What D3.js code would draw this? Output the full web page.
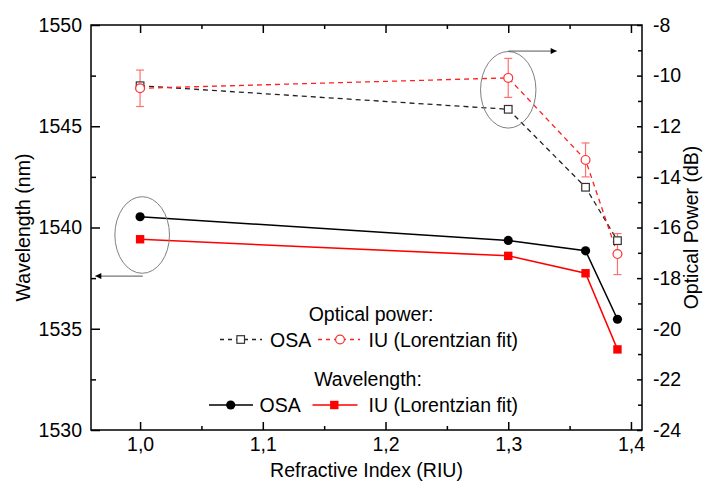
<!DOCTYPE html>
<html>
<head>
<meta charset="utf-8">
<script src="https://cdn.jsdelivr.net/npm/d3@7"></script>
<style>
  html, body { margin: 0; padding: 0; background: #fff; }
  svg { display: block; font-family: "Liberation Sans", Arial, sans-serif; }
</style>
</head>
<body>
<svg id="chart" width="705" height="490"></svg>
<script>
// ---- data ----
const refractiveIndex = [1.0, 1.3, 1.363, 1.389];
const wavelengthOSA = [1540.53, 1539.36, 1538.85, 1535.47];
const wavelengthIU = [1539.42, 1538.6, 1537.74, 1533.98];
const powerOSA = [-10.4, -11.33, -14.41, -16.52];
const powerIU = [-10.5, -10.09, -13.33, -17.05];
const powerIUerr = [0.72, 0.77, 0.67, 0.81];
const xTicks = [1.0, 1.1, 1.2, 1.3, 1.4];
const leftTicks = [1530, 1535, 1540, 1545, 1550];
const rightTicks = [-24, -22, -20, -18, -16, -14, -12, -10, -8];

// annotations (data space)
const ellipseLeft = { x: 1.0017, y: 1539.63, rx: 27.3, ry: 38.3 };
const ellipseRight = { x: 1.3, y: -10.56, rx: 27.7, ry: 38.3 };
const arrowLeft = { x1: 1.0022, x2: 0.9635, y: 1537.6 };
const arrowRight = { x1: 1.3, x2: 1.3395, y: -9.03 };

const svg = d3.select("#chart");
const L = 91, R = 642, T = 25, B = 430;
const FS = 19.5;

const x = d3.scaleLinear().domain([0.96, 1.409]).range([L, R]);
const yL = d3.scaleLinear().domain([1530, 1550]).range([B, T]);
const yR = d3.scaleLinear().domain([-24, -8]).range([B, T]);

const fmtX = d => d3.format(".1f")(d).replace(".", ",");

// defs arrow
const defs = svg.append("defs");
defs.append("marker").attr("id", "arr").attr("viewBox", "0 0 10 10")
  .attr("refX", 10).attr("refY", 5).attr("markerWidth", 10).attr("markerHeight", 6)
  .attr("markerUnits", "userSpaceOnUse").attr("orient", "auto")
  .append("path").attr("d", "M0,0 L10,5 L0,10 Z").attr("fill", "#000");

// ---- axes ----
const gAx = svg.append("g");
// bottom
gAx.append("g").attr("transform", `translate(0,${B})`)
  .call(d3.axisBottom(x).tickValues(xTicks).tickSizeInner(-8).tickSizeOuter(0).tickFormat(fmtX).tickPadding(7))
  .call(g => g.select(".domain").remove());
gAx.append("g").attr("transform", `translate(0,${B})`)
  .call(d3.axisBottom(x).tickValues([1.05, 1.15, 1.25, 1.35]).tickSizeInner(-4).tickSizeOuter(0).tickFormat(""))
  .call(g => g.select(".domain").remove());
// top
gAx.append("g").attr("transform", `translate(0,${T})`)
  .call(d3.axisTop(x).tickValues(xTicks).tickSizeInner(-8).tickSizeOuter(0).tickFormat(""))
  .call(g => g.select(".domain").remove());
gAx.append("g").attr("transform", `translate(0,${T})`)
  .call(d3.axisTop(x).tickValues([1.05, 1.15, 1.25, 1.35]).tickSizeInner(-4).tickSizeOuter(0).tickFormat(""))
  .call(g => g.select(".domain").remove());
// left
gAx.append("g").attr("transform", `translate(${L},0)`)
  .call(d3.axisLeft(yL).tickValues(leftTicks).tickSizeInner(-9).tickSizeOuter(0).tickFormat(d3.format("d")).tickPadding(9))
  .call(g => g.select(".domain").remove());
gAx.append("g").attr("transform", `translate(${L},0)`)
  .call(d3.axisLeft(yL).tickValues([1532.5, 1537.5, 1542.5, 1547.5]).tickSizeInner(-5).tickSizeOuter(0).tickFormat(""))
  .call(g => g.select(".domain").remove());
// right
gAx.append("g").attr("transform", `translate(${R},0)`)
  .call(d3.axisRight(yR).tickValues(rightTicks).tickSizeInner(-5).tickSizeOuter(0).tickFormat(d => String(d)).tickPadding(11))
  .call(g => g.select(".domain").remove());
gAx.append("g").attr("transform", `translate(${R},0)`)
  .call(d3.axisRight(yR).tickValues([-23, -21, -19, -17, -15, -13, -11, -9]).tickSizeInner(-4).tickSizeOuter(0).tickFormat(""))
  .call(g => g.select(".domain").remove());

gAx.selectAll(".tick line").attr("stroke", "#000").attr("stroke-width", 1.5);
gAx.selectAll(".tick text").attr("font-size", FS).attr("font-family", "Liberation Sans, Arial, sans-serif").attr("fill", "#000");

// frame
svg.append("rect").attr("x", L).attr("y", T).attr("width", R - L).attr("height", B - T)
  .attr("fill", "none").attr("stroke", "#000").attr("stroke-width", 1.5);

// axis titles
svg.append("text").attr("x", (L + R) / 2).attr("y", 477).attr("text-anchor", "middle")
  .attr("font-size", FS).text("Refractive Index (RIU)");
svg.append("text").attr("transform", `translate(30,${(T + B) / 2}) rotate(-90)`).attr("text-anchor", "middle")
  .attr("font-size", FS).text("Wavelength (nm)");
svg.append("text").attr("transform", `translate(698,${(T + B) / 2}) rotate(-90)`).attr("text-anchor", "middle")
  .attr("font-size", FS).text("Optical Power (dB)");

// ---- data series ----
const idx = d3.range(refractiveIndex.length);
const lineL = arr => d3.line().x(i => x(refractiveIndex[i])).y(i => yL(arr[i]));
const lineR = arr => d3.line().x(i => x(refractiveIndex[i])).y(i => yR(arr[i]));

// optical power lines
svg.append("path").attr("d", lineR(powerOSA)(idx)).attr("fill", "none")
  .attr("stroke", "#222").attr("stroke-width", 1.3).attr("stroke-dasharray", "5,4");
svg.append("path").attr("d", lineR(powerIU)(idx)).attr("fill", "none")
  .attr("stroke", "#ff2020").attr("stroke-width", 1.3).attr("stroke-dasharray", "5,4");

// wavelength lines
svg.append("path").attr("d", lineL(wavelengthOSA)(idx)).attr("fill", "none")
  .attr("stroke", "#000").attr("stroke-width", 1.5);
svg.append("path").attr("d", lineL(wavelengthIU)(idx)).attr("fill", "none")
  .attr("stroke", "#ff0000").attr("stroke-width", 1.5);

// error bars
const eb = svg.append("g").attr("stroke", "#ff7070").attr("stroke-width", 1.2);
idx.forEach(i => {
  const cx = x(refractiveIndex[i]);
  const y1 = yR(powerIU[i] + powerIUerr[i]), y2 = yR(powerIU[i] - powerIUerr[i]);
  eb.append("line").attr("x1", cx).attr("x2", cx).attr("y1", y1).attr("y2", y2);
  eb.append("line").attr("x1", cx - 4).attr("x2", cx + 4).attr("y1", y1).attr("y2", y1);
  eb.append("line").attr("x1", cx - 4).attr("x2", cx + 4).attr("y1", y2).attr("y2", y2);
});

// markers
svg.append("g").selectAll("rect").data(idx).join("rect")
  .attr("x", i => x(refractiveIndex[i]) - 3.8).attr("y", i => yR(powerOSA[i]) - 3.8)
  .attr("width", 7.6).attr("height", 7.6).attr("fill", "#fff").attr("stroke", "#333").attr("stroke-width", 1.2);
svg.append("g").selectAll("circle").data(idx).join("circle")
  .attr("cx", i => x(refractiveIndex[i])).attr("cy", i => yR(powerIU[i])).attr("r", 4.4)
  .attr("fill", "#fff").attr("stroke", "#ff3030").attr("stroke-width", 1.2);
svg.append("g").selectAll("circle").data(idx).join("circle")
  .attr("cx", i => x(refractiveIndex[i])).attr("cy", i => yL(wavelengthOSA[i])).attr("r", 4.6)
  .attr("fill", "#000");
svg.append("g").selectAll("rect").data(idx).join("rect")
  .attr("x", i => x(refractiveIndex[i]) - 4.2).attr("y", i => yL(wavelengthIU[i]) - 4.2)
  .attr("width", 8.4).attr("height", 8.4).attr("fill", "#ff0000");

// ---- annotations ----
svg.append("ellipse").attr("cx", x(ellipseLeft.x)).attr("cy", yL(ellipseLeft.y))
  .attr("rx", ellipseLeft.rx).attr("ry", ellipseLeft.ry).attr("fill", "none").attr("stroke", "#808080").attr("stroke-width", 1);
svg.append("ellipse").attr("cx", x(ellipseRight.x)).attr("cy", yR(ellipseRight.y))
  .attr("rx", ellipseRight.rx).attr("ry", ellipseRight.ry).attr("fill", "none").attr("stroke", "#808080").attr("stroke-width", 1);
svg.append("line").attr("x1", x(arrowLeft.x1)).attr("x2", x(arrowLeft.x2)).attr("y1", yL(arrowLeft.y)).attr("y2", yL(arrowLeft.y))
  .attr("stroke", "#555").attr("stroke-width", 1).attr("marker-end", "url(#arr)");
svg.append("line").attr("x1", x(arrowRight.x1)).attr("x2", x(arrowRight.x2)).attr("y1", yR(arrowRight.y)).attr("y2", yR(arrowRight.y))
  .attr("stroke", "#555").attr("stroke-width", 1).attr("marker-end", "url(#arr)");

// ---- legend ----
const lg = svg.append("g").attr("font-size", FS);
lg.append("text").attr("x", 371).attr("y", 321).attr("text-anchor", "middle").text("Optical power:");
// row 2
lg.append("line").attr("x1", 220).attr("x2", 262).attr("y1", 339.5).attr("y2", 339.5)
  .attr("stroke", "#222").attr("stroke-width", 1.3).attr("stroke-dasharray", "4,4");
lg.append("rect").attr("x", 240.7 - 3.8).attr("y", 339.5 - 3.8).attr("width", 7.6).attr("height", 7.6)
  .attr("fill", "#fff").attr("stroke", "#333").attr("stroke-width", 1.2);
lg.append("text").attr("x", 270).attr("y", 346.5).text("OSA");
lg.append("line").attr("x1", 318).attr("x2", 360).attr("y1", 339.5).attr("y2", 339.5)
  .attr("stroke", "#ff2020").attr("stroke-width", 1.3).attr("stroke-dasharray", "4,4");
lg.append("circle").attr("cx", 340).attr("cy", 339.5).attr("r", 4.4)
  .attr("fill", "#fff").attr("stroke", "#ff3030").attr("stroke-width", 1.2);
lg.append("text").attr("x", 368.5).attr("y", 346.5).text("IU (Lorentzian fit)");
// row 3
lg.append("text").attr("x", 368).attr("y", 386).attr("text-anchor", "middle").text("Wavelength:");
// row 4
lg.append("line").attr("x1", 209).attr("x2", 253).attr("y1", 405).attr("y2", 405)
  .attr("stroke", "#000").attr("stroke-width", 1.5);
lg.append("circle").attr("cx", 230.7).attr("cy", 405).attr("r", 4.6).attr("fill", "#000");
lg.append("text").attr("x", 259.5).attr("y", 412).text("OSA");
lg.append("line").attr("x1", 312.5).attr("x2", 357.5).attr("y1", 405).attr("y2", 405)
  .attr("stroke", "#ff0000").attr("stroke-width", 1.5);
lg.append("rect").attr("x", 334.3 - 4.2).attr("y", 405 - 4.2).attr("width", 8.4).attr("height", 8.4).attr("fill", "#ff0000");
lg.append("text").attr("x", 368.5).attr("y", 412).text("IU (Lorentzian fit)");
</script>
</body>
</html>
